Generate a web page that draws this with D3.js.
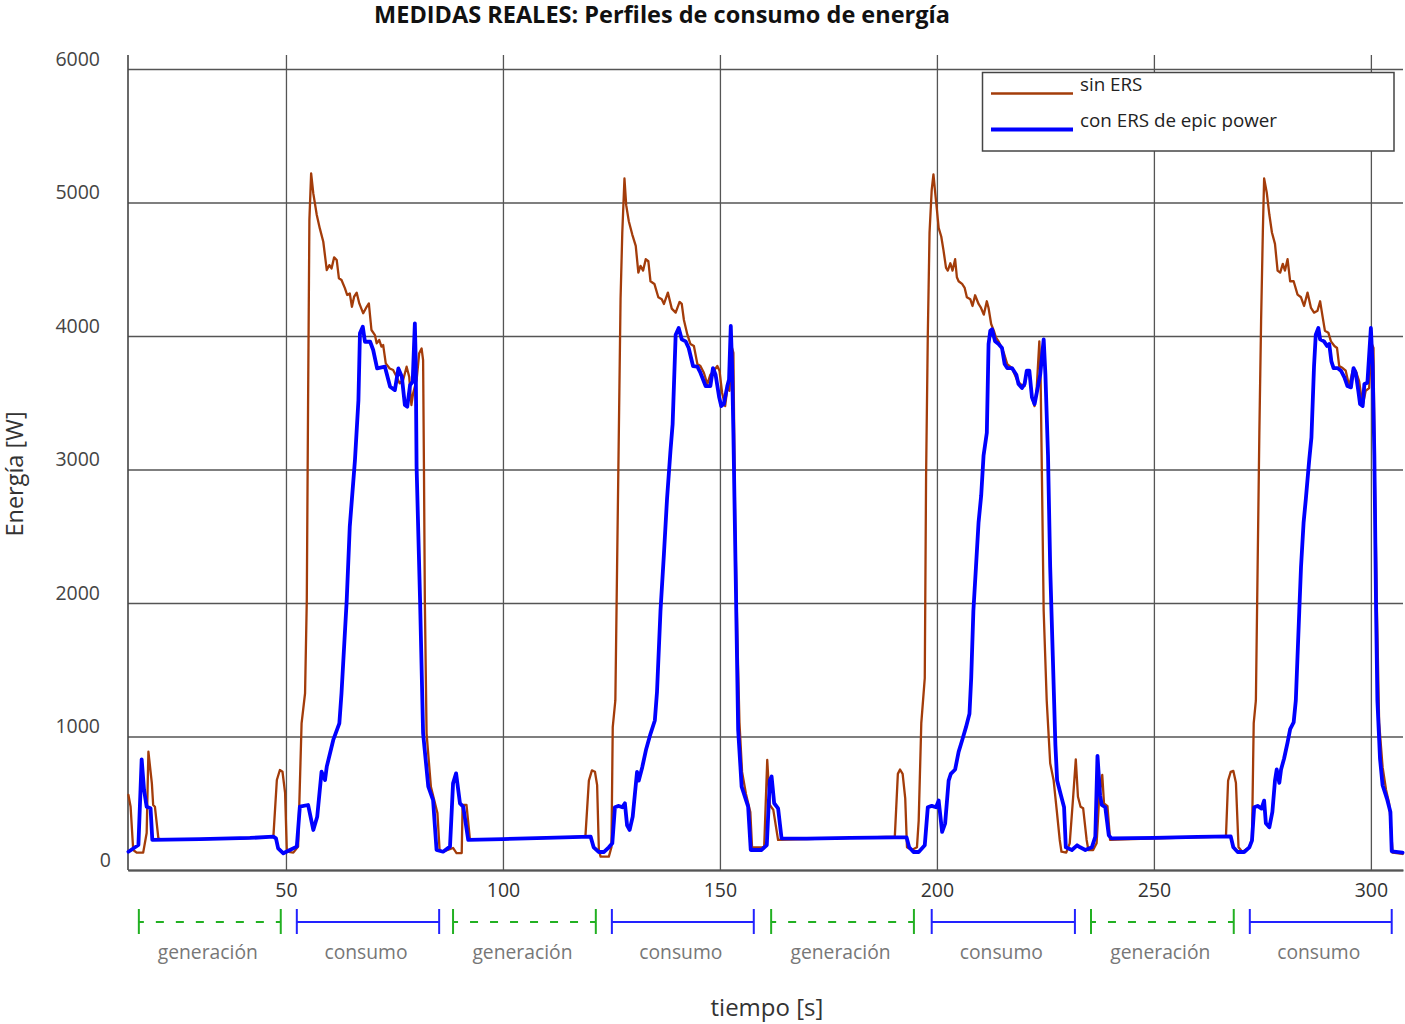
<!DOCTYPE html>
<html>
<head>
<meta charset="utf-8">
<script src="https://cdn.jsdelivr.net/npm/d3@7"></script>
<style>
  body { margin: 0; background: #fff; }
  text { font-family: "Open Sans", sans-serif; }
</style>
</head>
<body>
<div id="chart"></div>
<script>
// Medidas: [tiempo (s), energía (W)]
const sinERS = [
  [13.7,562],[14.2,474],[14.8,150],[15.6,130],[17.1,130],[17.9,277],[18.3,886],[19.1,649],[19.4,487],[19.8,474],
  [20.6,237],[21.0,232],[30.0,232],[40.0,238],[47.1,250],[47.9,674],[48.6,749],[49.2,736],[49.8,577],[50.2,137],
  [51.7,130],[52.8,175],[53.6,1099],[54.4,1324],[54.8,2022],[55.1,3520],[55.4,4870],[55.8,5218],[56.3,5068],[57.1,4906],
  [57.8,4806],[58.6,4706],[59.4,4494],[60.0,4531],[60.5,4506],[61.1,4589],[61.7,4569],[62.2,4432],[62.8,4419],[63.6,4357],
  [64.1,4307],[64.7,4319],[65.2,4219],[65.7,4294],[66.3,4324],[66.9,4244],[67.8,4170],[68.6,4219],[69.1,4244],[69.7,4045],
  [70.5,4007],[70.9,3945],[71.5,3970],[72.0,3920],[72.4,3932],[73.0,3795],[73.9,3757],[74.7,3745],[75.5,3695],[76.2,3645],
  [77.0,3670],[77.8,3770],[78.4,3695],[78.9,3483],[79.3,3570],[80.1,3670],[80.7,3870],[81.25,3907],[81.6,3820],[81.8,3000],
  [82.0,2022],[82.4,1024],[83.4,623],[84.9,427],[85.4,150],[86.2,137],[88.5,165],[89.3,127],[90.5,127],[90.7,487],
  [91.6,487],[92.4,225],[100,232],[110,240],[119.0,250],[119.8,669],[120.5,746],[121.2,736],[121.7,636],[122.1,150],
  [122.5,100],[124.4,100],[125.0,170],[125.3,1070],[125.9,1270],[126.3,2270],[126.7,3270],[127.1,4275],[127.5,4775],[128.0,5180],
  [128.4,4980],[129.0,4860],[129.8,4760],[130.6,4675],[131.2,4475],[131.7,4525],[132.3,4490],[132.9,4575],[133.5,4560],[134.0,4410],
  [134.9,4390],[135.8,4290],[136.6,4275],[137.1,4240],[138.0,4325],[138.9,4205],[139.8,4175],[140.7,4255],[141.2,4240],[141.7,4120],
  [142.5,4010],[143.2,3940],[144.0,3925],[144.8,3790],[145.5,3775],[146.3,3725],[147.1,3640],[147.8,3710],[148.6,3740],[149.4,3775],
  [149.9,3740],[150.5,3575],[151.2,3475],[151.7,3610],[152.2,3590],[152.8,3910],[153.1,3875],[153.5,2605],[154.0,1770],[154.5,1105],
  [155.1,735],[156.0,570],[157.0,435],[157.4,170],[159.8,170],[160.2,175],[160.9,824],[161.5,487],[162.3,450],[163.4,225],
  [170,232],[180,240],[190.3,250],[191.0,720],[191.5,753],[192.1,720],[192.7,536],[193.1,170],[194.2,150],[195.4,170],
  [195.8,370],[196.4,1100],[197.2,1437],[197.5,2940],[197.9,4010],[198.3,4775],[198.8,5095],[199.2,5210],[199.6,5075],[200.0,4945],
  [200.4,4810],[201.0,4745],[201.5,4645],[202.1,4510],[202.5,4490],[203.1,4545],[203.6,4490],[204.2,4575],[204.6,4440],[205.0,4410],
  [205.8,4390],[206.4,4360],[206.9,4290],[207.7,4275],[208.2,4225],[208.8,4305],[209.6,4240],[210.1,4215],[210.8,4160],[211.5,4260],
  [211.9,4210],[212.5,4090],[213.1,4040],[213.6,3990],[214.2,3960],[215.4,3875],[216.2,3790],[217.3,3760],[218.4,3675],[219.2,3640],
  [220.2,3625],[220.7,3740],[221.3,3740],[221.9,3540],[222.5,3475],[223.0,3610],[223.6,3960],[223.9,3675],[224.2,2940],[224.6,1940],
  [225.3,1270],[226.1,800],[226.9,670],[227.6,450],[228.3,225],[228.7,137],[229.8,130],[230.6,200],[231.4,549],[232.0,829],
  [232.5,549],[233.1,474],[233.7,462],[234.5,225],[234.9,150],[236.0,150],[236.8,200],[237.4,549],[238.1,712],[238.5,499],
  [239.3,479],[239.9,225],[245,232],[255,240],[266.6,250],[267.1,670],[267.7,736],[268.3,743],[268.9,653],[269.5,170],
  [270.4,135],[272.0,170],[272.6,235],[273.0,1100],[273.5,1270],[273.9,2270],[274.3,3275],[274.7,4110],[275.1,4775],[275.4,5180],
  [276.0,5075],[276.6,4910],[277.2,4775],[277.9,4690],[278.5,4490],[279.1,4475],[279.7,4540],[280.2,4490],[280.8,4575],[281.4,4410],
  [282.2,4410],[283.1,4310],[283.9,4290],[284.6,4225],[285.4,4325],[286.2,4210],[286.9,4175],[287.7,4190],[288.3,4260],[288.9,4140],
  [289.4,4040],[290.2,4025],[290.8,3960],[291.6,3925],[292.2,3910],[292.7,3775],[293.5,3760],[294.2,3740],[295.0,3625],[295.8,3740],
  [296.5,3740],[297.3,3660],[298.1,3475],[298.8,3590],[299.6,3610],[300.0,3875],[300.2,3940],[300.6,3910],[300.9,2940],[301.4,1940],
  [301.9,1105],[302.7,770],[303.5,600],[304.2,500],[304.6,335],[305.0,130],[307.3,120]
];

const conERS = [
  [13.7,137],[16.0,187],[16.75,829],[17.3,599],[17.9,474],[18.8,462],[19.2,225],[30.2,232],[41.7,240],[47.1,250],
  [47.7,237],[48.2,162],[49.4,125],[50.9,150],[52.5,175],[53.2,474],[55.1,487],[56.3,300],[57.2,399],[58.2,736],
  [59.0,674],[59.4,774],[60.9,974],[62.3,1099],[62.8,1325],[64.0,2022],[64.7,2571],[65.9,3071],[66.7,3520],[67.05,4020],
  [67.7,4070],[68.2,3957],[69.4,3957],[70.1,3895],[71.0,3757],[72.8,3770],[74.0,3620],[75.1,3595],[75.9,3757],[76.7,3695],
  [77.4,3483],[77.95,3470],[78.6,3633],[79.2,3657],[79.7,4095],[79.9,3820],[80.1,3020],[80.9,2022],[81.6,1024],[82.8,624],
  [83.9,524],[84.7,150],[86.2,137],[87.8,175],[88.5,649],[89.2,724],[90.1,499],[90.85,474],[92.0,225],[100,232],
  [110,240],[120.2,250],[120.9,170],[122.1,135],[123.3,135],[124.4,170],[125.2,200],[125.8,470],[126.7,480],[127.5,470],
  [128.1,500],[128.6,335],[129.2,300],[129.9,400],[130.9,735],[131.3,670],[132.1,770],[133.0,905],[134.0,1020],[135.0,1120],
  [135.5,1335],[136.3,1940],[137.1,2370],[137.8,2775],[138.6,3140],[139.1,3340],[139.8,4010],[140.5,4060],[141.2,3975],[142.1,3960],
  [142.8,3910],[143.8,3775],[144.8,3770],[145.5,3725],[146.7,3625],[147.8,3625],[148.4,3760],[149.0,3710],[149.8,3545],[150.3,3475],
  [150.9,3490],[151.7,3625],[152.1,3675],[152.5,4075],[152.8,3775],[153.1,3275],[153.6,2270],[154.2,1050],[155.0,625],[156.5,475],
  [157.1,150],[159.6,150],[160.8,187],[161.5,674],[161.9,700],[162.5,500],[163.4,462],[164.2,237],[170,235],[180,240],
  [190.3,245],[193.0,245],[193.6,170],[194.6,135],[195.8,135],[197.2,185],[197.9,470],[198.8,480],[199.8,470],[200.4,520],
  [201.2,285],[201.9,350],[202.7,670],[203.2,720],[204.2,753],[205.0,885],[205.8,970],[206.7,1070],[207.5,1170],[207.9,1437],
  [208.4,1940],[209.0,2270],[209.6,2605],[210.2,2805],[210.75,3105],[211.5,3275],[211.9,3940],[212.3,4040],[212.7,4050],[213.4,3960],
  [214.2,3940],[215.0,3910],[215.6,3790],[216.2,3760],[217.3,3760],[218.3,3710],[218.8,3640],[219.6,3610],[220.2,3640],[220.7,3740],
  [221.3,3740],[221.9,3540],[222.5,3490],[223.3,3625],[223.8,3710],[224.6,3975],[225.0,3710],[225.6,3105],[226.1,2270],[226.7,1605],
  [227.3,935],[227.7,670],[228.5,570],[229.3,470],[229.7,170],[231.1,150],[232.3,185],[233.0,170],[234.2,150],[235.7,170],
  [236.5,250],[237.0,855],[237.6,560],[238.0,487],[238.8,470],[239.6,260],[240.2,237],[250,240],[260,248],[267.7,252],
  [268.3,170],[269.3,135],[270.8,135],[272.0,170],[272.6,220],[273.1,470],[273.9,480],[274.8,460],[275.4,520],[275.8,350],
  [276.6,320],[277.3,435],[277.9,670],[278.3,753],[278.9,653],[279.3,753],[280.0,835],[280.8,955],[281.4,1055],[282.2,1105],
  [282.7,1270],[283.1,1605],[283.5,1940],[283.9,2270],[284.5,2605],[285.0,2775],[285.8,3075],[286.3,3240],[286.9,3775],[287.3,4010],
  [287.9,4060],[288.3,3975],[289.2,3960],[289.9,3925],[290.4,3940],[290.9,3810],[291.4,3760],[292.3,3760],[293.1,3740],[293.9,3690],
  [294.6,3625],[295.4,3615],[296.0,3760],[296.5,3725],[297.1,3590],[297.5,3490],[298.1,3475],[298.5,3640],[299.2,3650],[300.0,4060],
  [300.4,3775],[300.8,3105],[301.2,1940],[301.5,1270],[302.1,835],[302.7,635],[303.7,535],[304.5,435],[304.8,140],[307.3,130]
];

const xTicks = [50, 100, 150, 200, 250, 300];
const yTicks = [0, 1000, 2000, 3000, 4000, 5000, 6000];

// fases del ciclo (inicio, fin en segundos)
const fases = [
  ["generación", 16.1, 48.8], ["consumo", 52.5, 85.3],
  ["generación", 88.5, 121.4], ["consumo", 125.1, 157.8],
  ["generación", 161.8, 194.7], ["consumo", 198.8, 231.8],
  ["generación", 235.5, 268.4], ["consumo", 272.1, 304.8]
];

const series = [
  { nombre: "sin ERS", datos: sinERS, color: "#a33c0a", ancho: 2.3 },
  { nombre: "con ERS de epic power", datos: conERS, color: "#0000ff", ancho: 3.8 }
];

const width = 1405, height = 1024;
const margin = { top: 69, right: 2, bottom: 154, left: 128 };

const x = d3.scaleLinear([13.6, 307.4], [margin.left, width - margin.right]);
const y = d3.scaleLinear([0, 6000], [height - margin.bottom, margin.top]);

const svg = d3.select("#chart").append("svg")
  .attr("width", width)
  .attr("height", height)
  .attr("viewBox", [0, 0, width, height]);

const gridColor = "#555";

// eje x con lineas verticales de rejilla
const gx = svg.append("g")
  .attr("transform", `translate(0,${y(0)})`)
  .call(d3.axisBottom(x).tickValues(xTicks).tickSize(-(y(0) - 55)).tickSizeOuter(0).tickPadding(13));
gx.select(".domain").attr("stroke", "#444").attr("stroke-width", 2);
gx.selectAll(".tick line").attr("stroke", gridColor).attr("stroke-width", 1.3);
gx.selectAll(".tick text").attr("fill", "#333").attr("font-size", 19.5)
  .attr("font-family", "'Open Sans', sans-serif");

// eje y con lineas horizontales
const gy = svg.append("g")
  .attr("transform", `translate(${margin.left},0)`)
  .call(d3.axisLeft(y).tickValues(yTicks).tickFormat(d3.format("d"))
    .tickSize(-(width - margin.right - margin.left)).tickPadding(28));
gy.select(".domain").remove();
gy.selectAll(".tick line").attr("stroke", gridColor).attr("stroke-width", 1.3);
gy.selectAll(".tick text")
  .attr("fill", "#444").attr("font-size", 19.5)
  .attr("font-family", "'Open Sans', sans-serif")
  .attr("y", -10)
  .attr("x", d => d === 0 ? -17 : -28);

svg.append("line")
  .attr("x1", margin.left).attr("x2", margin.left)
  .attr("y1", 55).attr("y2", y(0))
  .attr("stroke", "#444").attr("stroke-width", 1.6);

// curvas
const line = d3.line().x(d => x(d[0])).y(d => y(d[1]));
svg.append("g")
  .attr("fill", "none")
  .attr("stroke-linejoin", "round")
  .attr("stroke-linecap", "round")
  .selectAll("path")
  .data(series)
  .join("path")
  .attr("stroke", d => d.color)
  .attr("stroke-width", d => d.ancho)
  .attr("d", d => line(d.datos));

// leyenda
const legend = svg.append("g");
legend.append("rect")
  .attr("x", 982.5).attr("y", 72.5).attr("width", 411.5).attr("height", 78.5)
  .attr("fill", "#fff").attr("stroke", "#444").attr("stroke-width", 1.5);
series.forEach((s, i) => {
  const ly = 93.5 + i * 36;
  legend.append("line")
    .attr("x1", 991).attr("x2", 1073).attr("y1", ly).attr("y2", ly)
    .attr("stroke", s.color).attr("stroke-width", s.ancho);
  legend.append("text")
    .attr("x", 1080).attr("y", ly - 2.5)
    .attr("fill", "#222").attr("font-size", 18.8)
    .text(s.nombre);
});

// fases debajo del eje
const segY = 922;
const fg = svg.append("g").selectAll("g").data(fases).join("g");
fg.append("line")
  .attr("x1", d => x(d[1])).attr("x2", d => x(d[2]))
  .attr("y1", segY).attr("y2", segY)
  .attr("stroke", d => d[0] === "consumo" ? "#2222ff" : "#22b022")
  .attr("stroke-width", 2)
  .attr("stroke-dasharray", d => d[0] === "consumo" ? null : "8,12")
  .attr("stroke-dashoffset", 3);
fg.selectAll(".tope").data(d => [[d[1], d[0]], [d[2], d[0]]]).join("line")
  .attr("x1", d => x(d[0])).attr("x2", d => x(d[0]))
  .attr("y1", segY - 13).attr("y2", segY + 12)
  .attr("stroke", d => d[1] === "consumo" ? "#2222ff" : "#22b022")
  .attr("stroke-width", 2);
fg.append("text")
  .attr("x", d => x((d[1] + d[2]) / 2) - 2)
  .attr("y", 959)
  .attr("text-anchor", "middle")
  .attr("fill", "#777").attr("font-size", 19.3)
  .text(d => d[0]);

// titulos
svg.append("text")
  .attr("x", 662).attr("y", 23)
  .attr("text-anchor", "middle")
  .attr("font-weight", "bold").attr("font-size", 23.5).attr("fill", "#111")
  .text("MEDIDAS REALES: Perfiles de consumo de energía");

svg.append("text")
  .attr("x", x(150) + 47).attr("y", 1016)
  .attr("text-anchor", "middle")
  .attr("font-size", 24).attr("fill", "#333")
  .text("tiempo [s]");

svg.append("text")
  .attr("transform", `translate(23,${474}) rotate(-90)`)
  .attr("text-anchor", "middle")
  .attr("font-size", 23.5).attr("fill", "#333")
  .text("Energía [W]");
</script>
</body>
</html>
